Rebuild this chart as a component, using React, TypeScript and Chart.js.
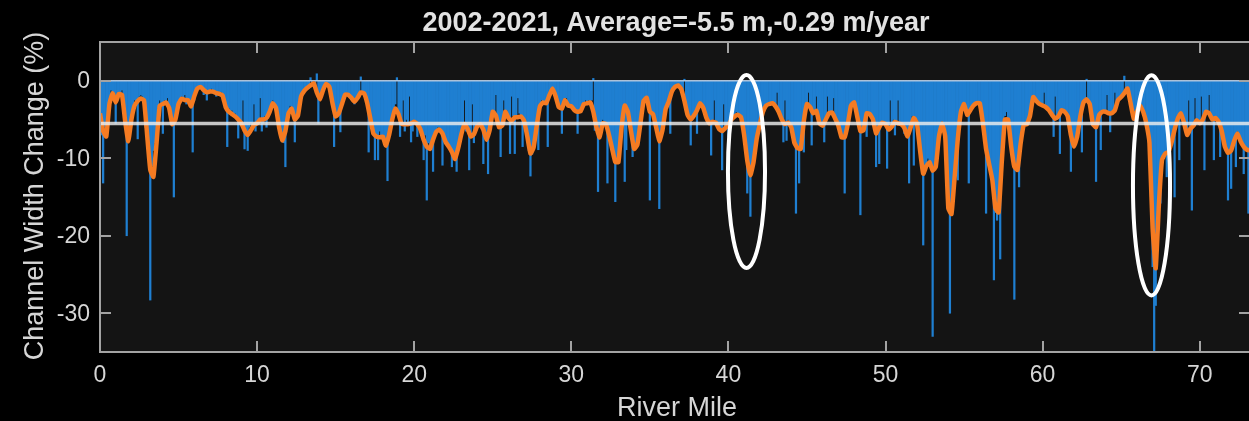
import React, { useEffect, useRef } from "react";
import { Chart, registerables } from "chart.js";

Chart.register(...registerables);

const TITLE = "2002-2021, Average=-5.5 m,-0.29 m/year";
const X_LABEL = "River Mile";
const Y_LABEL = "Channel Width Change (%)";
const X_TICKS = [0, 10, 20, 30, 40, 50, 60, 70];
const Y_TICKS = [0, -10, -20, -30];
const X_MIN = 0;
const X_MAX = 73.2;
const Y_MIN = -35;
const Y_MAX = 5;
const AVERAGE = -5.5;

// per-segment channel width change (%), one value every 0.1 river mile
const BAR_STEP = 0.1;
const BAR_VALUES = [
  -4, -7, -13.2, -6, -7, -5, -2.5, -1.2, -2, -2.5,
  -5.5, -2.5, -1.5, -2, -1.2, -4, -5.5, -20, -7, -6,
  -4, -3.5, -2.5, -3, -7.5, -2, -1.8, -2, -2.5, -6,
  -8, -10, -28.3, -11, -9, -8, -5, -3.5, -2.5, -3,
  -6.8, -2.5, -2.8, -2.2, -3.5, -4, -5, -15, -4, -3.5,
  -2.5, -2.8, -2, -2.5, -1.8, -3, -2.5, -2.8, -3, -9.2,
  -2.5, -1.5, -0.8, -1, -0.6, -1.2, -1.8, -1.5, -2.5, -1.2,
  -1.5, -1, -1.6, -1.2, -2, -1.5, -1.8, -1.4, -2.2, -2.6,
  -3.5, -8.5, -3.5, -4, -3.8, -4.5, -4.2, -5, -7.4, -5,
  -5.5, -2.5, -8.8, -6.5, -9, -6, -5.5, -6, -3, -6.5,
  -5.5, -5, -2.2, -6.5, -5.5, -4.5, -6, -4, -3.5, -3,
  -2.5, -3, -3.5, -5, -6.5, -7, -7.5, -8, -11.1, -5,
  -4, -3.2, -3.5, -4, -7.9, -4.5, -4, -2.5, -1.8, -1.5,
  -1.2, -1, -0.8, -1, 0.4, -0.5, -0.3, -0.8, 0.9, -5.5,
  -2.5, -2, -1, -0.6, -0.3, -0.5, -1, -2, -3, -8.5,
  -4.5, -4, -4, -6.6, -3, -2.5, -1.8, -1.5, -2, -1.8,
  -2.2, -2.5, -3, -2.5, -2, -1.5, 0.5, -1.8, -1.5, -2,
  -2.5, -9.2, -4.5, -5.5, -6, -10.2, -7, -10.2, -6.5, -7,
  -7, -7.5, -8, -12.9, -6.5, -5.5, -4.5, -3.5, -3, 0.4,
  -4, -7.2, -5.5, -2.5, -6.5, -5, -5.5, -2, -7.9, -6.5,
  -5, -5.2, -7.2, -5.5, -6, -6.5, -10.2, -7, -15.4, -8,
  -8.5, -8, -11.7, -7, -6.5, -6, -6, -6.5, -10.9, -7,
  -7.5, -8, -8.5, -8.5, -11.1, -9.5, -10, -11.7, -8.5, -7.5,
  -6.5, -6, -2.5, -6.5, -6, -11.5, -7, -3, -8, -6,
  -5.8, -5.5, -5.5, -6, -10.7, -7, -7.5, -12, -6, -5,
  -3.8, -4, -1.8, -5, -6, -9.8, -5.5, -2.5, -4, -3.8,
  -4.5, -9.4, -2, -4.5, -9.4, -4.5, -2.2, -4.2, -4.5, -8.5,
  -5, -6, -7, -9, -12.3, -9.5, -8.5, -7, -5.5, -8.9,
  -3, -2.5, -2.8, -3, -2.5, -8.5, -1.8, -1.2, -0.8, -1.5,
  -2, -3, -3.2, -3.5, -6.8, -3, -2.5, -2.2, -3, -3.2,
  -3.2, -3.5, -3.8, -4, -6.8, -3.8, -3.5, -3.2, -2.8, -2.5,
  -2.8, -2.5, -2.8, -2.5, 0.3, -6.4, -5.5, -14.3, -7, -6.5,
  -5, -5.5, -5.5, -13.2, -7, -8, -8.5, -10, -15.6, -10.5,
  -9.5, -7, -5, -3.5, -13, -8.9, -3.5, -5, -6, -9.8,
  -8.5, -8.5, -8, -6.5, -5, -3.5, -2.5, -2.2, -2, -3.5,
  -15.4, -4, -4.2, -5, -6, -7, -16.5, -7, -6, -4.5,
  -3.5, -3, -2.5, -6.8, -1.3, -1, -0.8, -0.5, -0.6, -0.8,
  -1, -1.5, 0.2, -3.5, -4.5, -4.5, -8.3, -4.8, -4.5, -4,
  -6.8, -3.2, -2.8, -2.8, -3.2, -4, -4.8, -5, -5.2, -9.6,
  -5, -2.5, -5.5, -5.5, -6, -6.5, -11.5, -3, -6, -5.8,
  -7.2, -5.2, -5, -4.5, -4.5, -4, -4.2, -4.5, -4.8, -5.5,
  -7, -9, -14.5, -11, -17.5, -11, -9.5, -8, -7, -6,
  -5, -4.5, -3.8, -3.5, -3, -3, -2.8, -3, -2.8, -3,
  -3.2, -1.5, -4, -4.5, -5, -7.9, -2.5, -7.7, -5, -5.5,
  -6, -7, -8, -17.1, -8.5, -13.2, -8.5, -7, -9.2, -4,
  -3, -1.5, -3.2, -8.3, -4, -4, -2, -4.5, -5.2, -5.5,
  -5.5, -7.9, -5, -2, -4, -4, -4, -2.2, -4.8, -5.2,
  -5.5, -6.5, -7, -7.5, -14.5, -6.5, -5, -4, -3, -2.8,
  -2.8, -3.5, -4.5, -5.5, -17.3, -6.5, -6, -5, -7.2, -4,
  -4.2, -4.5, -5, -6, -11.1, -6.5, -10.7, -5.5, -5.2, -5.5,
  -5.5, -11.3, -6, -2.5, -5.5, -5, -7, -5.2, -2.5, -5.5,
  -5.5, -5.8, -6.8, -6.5, -7, -13.2, -6, -4.5, -10.9, -4.8,
  -5, -6.5, -9, -11, -21.2, -12, -11, -10, -10.5, -11,
  -33, -11, -10.5, -9, -7, -6, -5.2, -5.5, -7, -12,
  -16.5, -30, -17, -15, -12, -9, -12.8, -5.5, -4, -3.2,
  -3, -3.5, -4.2, -13.2, -3.5, -3.2, -3, -2.8, -2.8, -3,
  -2.8, -4, -5.5, -7, -17.1, -9.5, -10.5, -11.5, -12.5, -25.7,
  -17, -18, -16, -23, -10, -7, -4.5, -4, -5, -7,
  -8.5, -10, -28.2, -11, -11.5, -13.7, -8, -6.5, -5.5, -5.5,
  -5.5, -5, -4.2, -3, -2, -2.2, -2.5, -2.8, -3, -3,
  -3.2, -1.5, -3.5, -3.5, -3.8, -4, -4.2, -7.2, -2, -5,
  -4.5, -9.4, -3.8, -3.8, -4, -4.2, -4.5, -6, -11.7, -8,
  -8.5, -8, -7, -5.5, -4.5, -9.2, -2.8, -2.2, 0.2, -2.5,
  -3, -4.5, -5.5, -6, -13, -5, -4.2, -8.9, -4, -3.8,
  -4, -1.8, -4.2, -6.6, -4, -3.8, -1.5, -3, -2.5, -2.2,
  -2, -1.8, 0.6, -1.2, -0.8, -2, -3, -4, -5, -4.5,
  -4, -3.5, -3, -3.5, -4, -4.5, -5.5, -7, -9, -15,
  -24, -35, -29, -22, -14, -15.8, -10, -9.5, -9.2, -12.4,
  -9, -8.5, -8, -7, -15, -5.5, -4.8, -10.2, -4, -5,
  -5.5, -6.5, -7, -2.5, -6, -16.7, -5.5, -2.2, -5, -5.2,
  -5.5, -2, -4.8, -11.5, -4, -3.8, -1.8, -4.5, -5, -10.2,
  -4.8, -5, -5.2, -9.8, -6.5, -7.5, -8.5, -9, -15.4, -9,
  -13.9, -8, -7.5, -11.1, -6.5, -7, -7.5, -8, -12, -8.5,
  -8.8, -17.1, -9,
];

// smoothed (moving-average) curve, one value every 0.2 river mile
const SMOOTH_STEP = 0.2;
const SMOOTH_VALUES = [
  -4.2, -6.5, -7.2, -3.0, -1.6, -2.8, -1.7, -1.8, -5.2, -7.8,
  -5.0, -3.2, -2.6, -2.3, -2.5, -7.0, -11.5, -12.4, -8.0, -3.2,
  -3.0, -2.8, -3.5, -5.6, -5.0, -3.0, -2.3, -2.5, -2.5, -3.3,
  -2.0, -1.0, -0.8, -1.2, -1.5, -1.4, -1.4, -1.6, -1.7, -1.9,
  -3.4, -4.0, -4.3, -4.6, -5.0, -5.5, -6.4, -7.0, -6.4, -5.7,
  -5.5, -5.0, -5.0, -4.8, -4.0, -2.9, -3.5, -6.0, -7.7, -6.5,
  -4.2, -3.6, -5.0, -4.5, -2.0, -1.3, -0.9, -0.6, -0.3, -1.5,
  -2.4, -1.2, -0.4, -0.8, -2.9, -4.6, -4.2, -3.0, -1.8, -1.8,
  -2.2, -2.7, -2.2, -1.5, -1.6, -2.8, -4.8, -6.8, -7.2, -7.3,
  -7.2, -8.4, -7.0, -5.0, -3.6, -4.3, -5.6, -5.6, -5.6, -5.5,
  -5.3, -5.6, -6.3, -7.6, -8.5, -8.8, -7.6, -6.6, -6.3, -6.8,
  -7.9, -8.5, -9.2, -10.1, -8.7, -6.9, -5.6, -6.2, -7.2, -6.9,
  -5.9, -5.6, -6.3, -7.6, -6.4, -4.0, -4.5, -6.0, -5.8, -4.0,
  -4.8, -5.2, -4.7, -4.7, -4.6, -5.2, -7.2, -9.4, -8.6, -5.8,
  -3.3, -2.8, -2.9, -1.9, -1.0, -2.0, -3.4, -3.6, -2.5, -3.2,
  -3.3, -3.8, -4.0, -3.9, -3.0, -2.9, -2.8, -4.0, -6.0, -7.3,
  -5.5, -5.6, -7.0, -8.8, -10.5, -10.5, -6.0, -3.2, -4.0, -6.5,
  -8.8, -8.3, -5.5, -2.6, -2.2, -4.0, -4.3, -6.0, -7.8, -6.4,
  -3.7, -2.7, -1.4, -0.8, -0.6, -1.1, -2.6, -4.4, -5.0, -4.5,
  -3.8, -2.9, -3.5, -4.8, -5.5, -5.3, -5.4, -6.2, -6.5, -6.1,
  -5.7, -5.0, -4.6, -4.4, -4.7, -7.0, -10.3, -12.2, -10.5, -7.5,
  -5.6, -4.0, -3.2, -3.0, -2.9, -3.3, -4.0, -5.0, -5.6, -5.4,
  -6.0, -8.0, -8.7, -8.8, -5.2, -3.0, -3.4, -4.2, -3.9, -5.5,
  -5.8, -5.0, -4.2, -4.1, -4.9, -5.8, -7.3, -7.3, -5.6, -3.2,
  -2.8, -4.6, -6.5, -6.4, -4.2, -4.3, -5.0, -6.8, -6.0, -5.4,
  -5.6, -6.3, -5.9, -5.3, -5.5, -5.6, -6.1, -7.2, -6.0, -4.8,
  -5.5, -9.0, -12.0, -11.0, -10.5, -11.6, -11.1, -7.2, -5.5, -7.2,
  -16.5, -17.2, -12.4, -7.5, -4.0, -3.0, -4.4, -3.8, -3.2, -2.9,
  -2.9, -5.5, -8.8, -10.8, -12.8, -16.5, -17.0, -10.5, -5.0, -5.0,
  -8.5, -11.1, -11.5, -8.1, -5.7, -5.6, -4.5, -2.1, -2.6, -3.0,
  -3.2, -3.4, -3.8, -4.4, -4.9, -4.6, -3.8, -4.0, -4.6, -7.0,
  -8.5, -7.2, -4.6, -2.8, -2.4, -3.0, -5.6, -6.0, -4.4, -4.0,
  -4.0, -4.2, -4.2, -3.8, -2.5, -2.1, -1.6, -1.0, -2.9, -4.9,
  -4.0, -3.2, -4.0, -5.5, -8.0, -19.0, -24.2, -16.0, -10.2, -9.4,
  -9.2, -8.0, -6.3, -4.9, -4.2, -5.4, -7.0, -6.2, -5.8, -5.1,
  -5.5, -5.0, -4.0, -4.2, -5.0, -4.8, -5.3, -6.5, -8.5, -9.3,
  -9.0, -7.7, -6.8, -7.8, -8.5, -8.9, -9.0,
];

// highlighted reaches (ellipses), in data units
const HIGHLIGHT_MILE = [41.15, 66.93];
const HIGHLIGHT_VALUE = [-11.7, -13.5];
const HIGHLIGHT_HALF_MILE = [1.18, 1.18];
const HIGHLIGHT_HALF_VALUE = [12.45, 14.2];

const FONT = '"Liberation Sans", Arial, Helvetica, sans-serif';
const TEXT_COLOR = "#d6d6d6";
const AXIS_COLOR = "#a3a3a3";

const decorPlugin = {
  id: "decor",
  beforeDraw(chart: any) {
    const { ctx, chartArea: a } = chart;
    ctx.save();
    ctx.fillStyle = "#000000";
    ctx.fillRect(0, 0, chart.width, chart.height);
    ctx.fillStyle = "#141414";
    ctx.fillRect(a.left, a.top, a.right - a.left, a.bottom - a.top);
    ctx.restore();
  },
  afterDatasetsDraw(chart: any) {
    const { ctx } = chart;
    const x = chart.scales.x;
    const y = chart.scales.y;
    ctx.save();
    ctx.strokeStyle = "#ffffff";
    ctx.lineWidth = 4;
    for (let i = 0; i < HIGHLIGHT_MILE.length; i++) {
      const cx = x.getPixelForValue(HIGHLIGHT_MILE[i]);
      const rx = Math.abs(x.getPixelForValue(HIGHLIGHT_MILE[i] + HIGHLIGHT_HALF_MILE[i]) - cx);
      const cy = y.getPixelForValue(HIGHLIGHT_VALUE[i]);
      const ry = Math.abs(y.getPixelForValue(HIGHLIGHT_VALUE[i] + HIGHLIGHT_HALF_VALUE[i]) - cy);
      ctx.beginPath();
      ctx.ellipse(cx, cy, rx, ry, 0, 0, Math.PI * 2);
      ctx.stroke();
    }
    ctx.restore();
  },
  afterDraw(chart: any) {
    const { ctx, chartArea: a } = chart;
    const x = chart.scales.x;
    const y = chart.scales.y;
    const tickLen = 11;
    ctx.save();
    ctx.strokeStyle = AXIS_COLOR;
    ctx.lineWidth = 2;
    ctx.strokeRect(a.left, a.top, a.right - a.left, a.bottom - a.top);
    ctx.beginPath();
    X_TICKS.forEach((t) => {
      const px = Math.round(x.getPixelForValue(t));
      ctx.moveTo(px, a.bottom);
      ctx.lineTo(px, a.bottom - tickLen);
      ctx.moveTo(px, a.top);
      ctx.lineTo(px, a.top + tickLen);
    });
    Y_TICKS.forEach((t) => {
      const py = Math.round(y.getPixelForValue(t));
      ctx.moveTo(a.left, py);
      ctx.lineTo(a.left + tickLen, py);
      ctx.moveTo(a.right, py);
      ctx.lineTo(a.right - tickLen, py);
    });
    ctx.stroke();
    ctx.fillStyle = TEXT_COLOR;
    ctx.font = `23px ${FONT}`;
    ctx.textAlign = "center";
    ctx.textBaseline = "middle";
    X_TICKS.forEach((t) => {
      ctx.fillText(String(t), x.getPixelForValue(t), a.bottom + 24);
    });
    ctx.textAlign = "right";
    Y_TICKS.forEach((t) => {
      ctx.fillText(String(t), a.left - 10, y.getPixelForValue(t) + 1);
    });
    ctx.font = `27px ${FONT}`;
    ctx.textAlign = "center";
    ctx.textBaseline = "alphabetic";
    ctx.fillText(X_LABEL, (a.left + a.right) / 2 + 2, 416);
    ctx.save();
    ctx.translate(43, (a.top + a.bottom) / 2 - 1);
    ctx.rotate(-Math.PI / 2);
    ctx.fillText(Y_LABEL, 0, 0);
    ctx.restore();
    ctx.fillStyle = "#e2e2e2";
    ctx.font = `bold 27px ${FONT}`;
    ctx.fillText(TITLE, (a.left + a.right) / 2 + 1, 31);
    ctx.restore();
  },
};

export default function App() {
  const canvasRef = useRef<HTMLCanvasElement | null>(null);

  useEffect(() => {
    const canvas = canvasRef.current;
    if (!canvas) return;
    const bars = BAR_VALUES.map((v, i) => ({ x: i * BAR_STEP, y: v }));
    const smooth = SMOOTH_VALUES.map((v, i) => ({ x: i * SMOOTH_STEP, y: v }));
    const chart = new Chart(canvas, {
      type: "bar",
      data: {
        datasets: [
          {
            type: "bar",
            label: "Width change",
            data: bars as any,
            backgroundColor: "#1f7fd1",
            borderWidth: 0,
            barPercentage: 1,
            categoryPercentage: 1,
            order: 4,
          } as any,
          {
            type: "line",
            label: "Baseline",
            data: [
              { x: X_MIN, y: 0 },
              { x: X_MAX, y: 0 },
            ] as any,
            borderColor: "rgba(200,212,228,0.85)",
            borderWidth: 1.5,
            pointRadius: 0,
            order: 3,
          } as any,
          {
            type: "line",
            label: "Smoothed",
            data: smooth as any,
            borderColor: "#f57b22",
            borderWidth: 4.5,
            pointRadius: 0,
            tension: 0.12,
            borderJoinStyle: "round",
            order: 2,
          } as any,
          {
            type: "line",
            label: "Average",
            data: [
              { x: X_MIN, y: AVERAGE },
              { x: X_MAX, y: AVERAGE },
            ] as any,
            borderColor: "rgba(238,238,238,0.82)",
            borderWidth: 3.5,
            pointRadius: 0,
            order: 1,
          } as any,
        ],
      },
      options: {
        responsive: false,
        devicePixelRatio: 1,
        animation: false,
        layout: { padding: { left: 100, top: 42, right: 50, bottom: 69 } },
        scales: {
          x: { type: "linear", min: X_MIN, max: X_MAX, offset: false, display: false },
          y: { type: "linear", min: Y_MIN, max: Y_MAX, display: false },
        },
        plugins: {
          legend: { display: false },
          tooltip: { enabled: false },
          title: { display: false },
        },
      },
      plugins: [decorPlugin],
    });
    return () => chart.destroy();
  }, []);

  return (
    <div
      style={{
        position: "fixed",
        left: 0,
        top: 0,
        width: 1249,
        height: 421,
        overflow: "hidden",
        background: "#000",
      }}
    >
      <canvas ref={canvasRef} width={1300} height={421} style={{ display: "block" }} />
    </div>
  );
}
